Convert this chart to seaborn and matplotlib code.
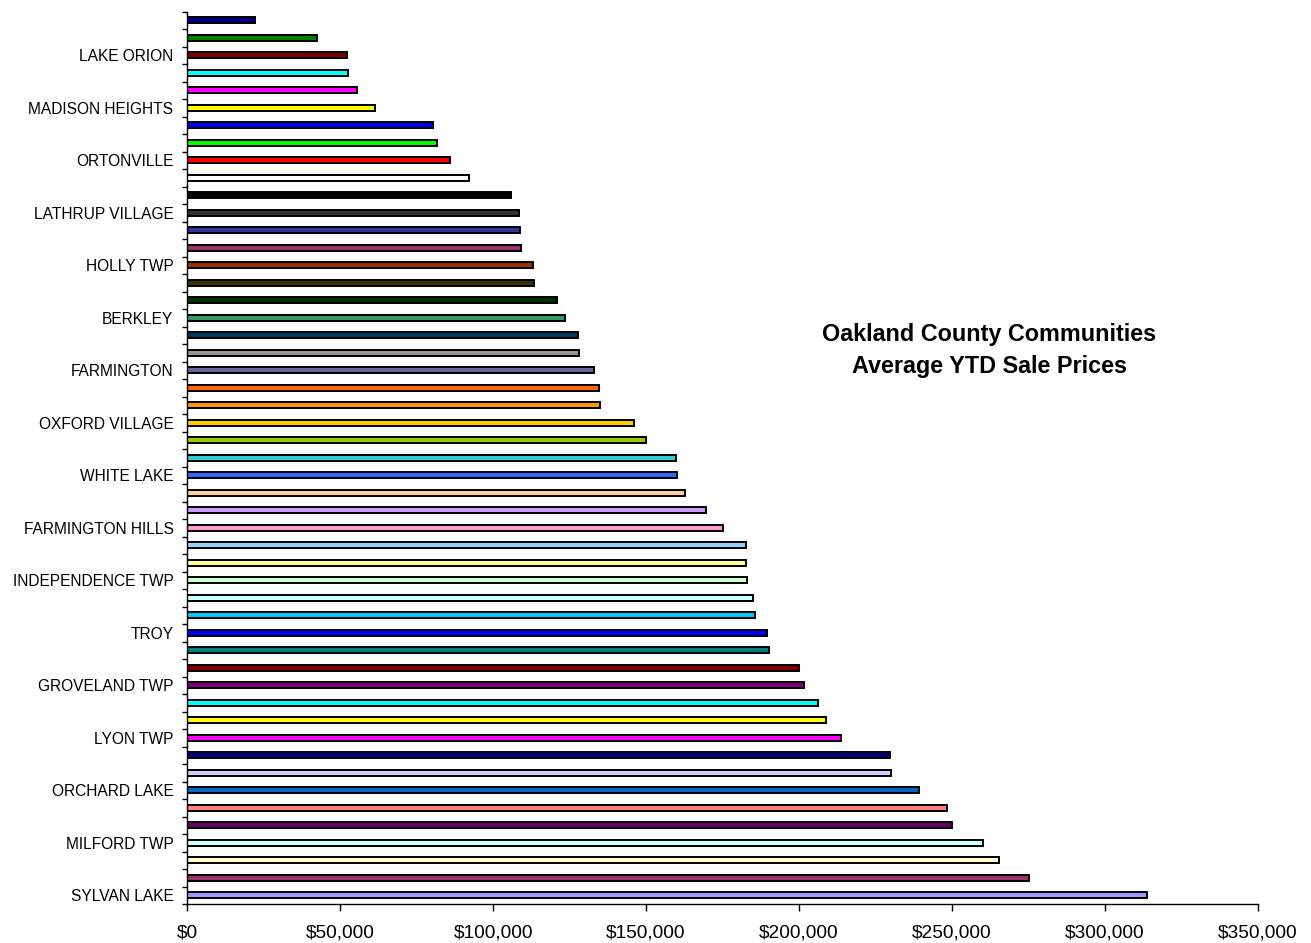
import matplotlib
matplotlib.use("Agg")
import matplotlib.pyplot as plt
from matplotlib.ticker import FixedLocator, StrMethodFormatter, NullFormatter
import seaborn as sns
import pandas as pd

# ---- data (listed top bar -> bottom bar) ----
prices = [22100, 42500, 52200, 52400, 55600, 61400, 80200, 81500, 85900, 92100,
          105700, 108500, 108700, 109100, 112900, 113500, 121000, 123600, 127800, 128000,
          133000, 134600, 135100, 146100, 150000, 159900, 160000, 162600, 169600, 175100,
          182600, 182800, 183000, 185100, 185500, 189500, 190100, 200100, 201500, 206100,
          209000, 213700, 229900, 230100, 239100, 248500, 250100, 260100, 265400, 275100,
          313900]

# community names shown on the axis (every third bar), keyed by bar slot
label_slots = [2, 5, 8, 11, 14, 17, 20, 23, 26, 29, 32, 35, 38, 41, 44, 47, 50]
label_names = ["LAKE ORION", "MADISON HEIGHTS", "ORTONVILLE", "LATHRUP VILLAGE",
               "HOLLY TWP", "BERKLEY", "FARMINGTON", "OXFORD VILLAGE", "WHITE LAKE",
               "FARMINGTON HILLS", "INDEPENDENCE TWP", "TROY", "GROVELAND TWP",
               "LYON TWP", "ORCHARD LAKE", "MILFORD TWP", "SYLVAN LAKE"]

bar_colors = ["#000080", "#008000", "#800000", "#00FFFF", "#FF00FF", "#FFFF00", "#0000FF",
              "#00FF00", "#FF0000", "#FFFFFF", "#000000", "#333333", "#333399", "#993366",
              "#993300", "#333300", "#003300", "#339966", "#003366", "#969696", "#666699",
              "#FF6600", "#FF9900", "#FFCC00", "#99CC00", "#33CCCC", "#3366FF", "#FFCC99",
              "#CC99FF", "#FF99CC", "#99CCFF", "#FFFF99", "#CCFFCC", "#CCFFFF", "#00CCFF",
              "#0000FF", "#008080", "#800000", "#800080", "#00FFFF", "#FFFF00", "#FF00FF",
              "#000080", "#CCCCFF", "#0066CC", "#FF8080", "#660066", "#CCFFFF", "#FFFFCC",
              "#993366", "#9999FF"]

x_ticks = [0, 50000, 100000, 150000, 200000, 250000, 300000, 350000]
title_lines = ["Oakland County Communities", "Average YTD Sale Prices"]

# ---- plot ----
sns.set_theme(style="white")
plt.rcParams["font.family"] = ["Liberation Sans", "DejaVu Sans"]

slots = list(range(len(prices)))
df = pd.DataFrame({"slot": slots, "price": prices})

fig = plt.figure(figsize=(13.11, 9.43), dpi=100)
ax = fig.add_axes([187.3 / 1311, 39 / 943, (1257.7 - 187.3) / 1311, (904 - 11.5) / 943])

sns.barplot(data=df, x="price", y="slot", hue="slot", palette=bar_colors,
            orient="h", legend=False, width=0.34, edgecolor="black",
            linewidth=1.4, saturation=1, ax=ax)

ax.set_xlim(0, 350000)
ax.set_ylim(len(prices) - 0.5, -0.5)
ax.set_xlabel("")
ax.set_ylabel("")

# x axis
ax.xaxis.set_major_locator(FixedLocator(x_ticks))
ax.xaxis.set_major_formatter(StrMethodFormatter("${x:,.0f}"))
ax.tick_params(axis="x", which="major", direction="out", length=5, width=1,
               color="black", labelsize=13.8, pad=9.5, bottom=True, labelcolor="black")

# y axis: labels every third bar, ticks at category boundaries
ax.yaxis.set_major_locator(FixedLocator(label_slots))
ax.set_yticklabels(label_names)
ax.yaxis.set_minor_locator(FixedLocator([s - 0.5 for s in slots] + [len(prices) - 0.5]))
ax.yaxis.set_minor_formatter(NullFormatter())
ax.tick_params(axis="y", which="major", length=0, labelsize=11.2, pad=10, labelcolor="black")
ax.tick_params(axis="y", which="minor", direction="out", length=3.3, width=1,
               color="black", left=True)

for side in ["top", "right"]:
    ax.spines[side].set_visible(False)
for side in ["left", "bottom"]:
    ax.spines[side].set_color("black")
    ax.spines[side].set_linewidth(1.0)
ax.grid(False)

fig.text(989 / 1311, 1 - 341 / 943, title_lines[0], ha="center", va="baseline",
         fontsize=16.8, fontweight="bold", color="black")
fig.text(989 / 1311, 1 - 373 / 943, title_lines[1], ha="center", va="baseline",
         fontsize=16.8, fontweight="bold", color="black")

fig.savefig("out.png", dpi=100, facecolor="white")
